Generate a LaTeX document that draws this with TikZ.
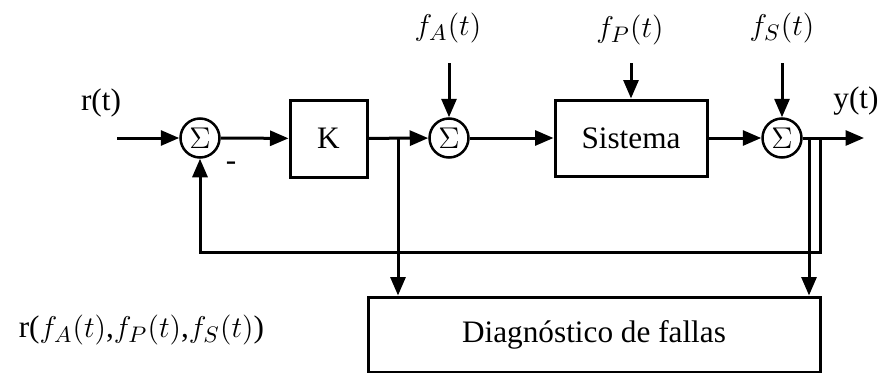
\documentclass[tikz,border=0pt]{standalone}
\usepackage{fontspec}
\setmainfont{Liberation Serif}
\usetikzlibrary{arrows.meta}

\begin{document}
\begin{tikzpicture}[x=0.4pt,y=-0.4pt,font=\fontsize{12.5}{15}\selectfont]
    \tikzset{
        block/.style={draw, line width=1.2pt, inner sep=0pt, minimum height=30.4pt},
        sumnode/.style={draw, circle, line width=1pt, inner sep=0pt, minimum size=15.6pt},
        arc/.style={-{Triangle[length=7.4pt,width=6pt]}, line width=1.2pt}
    }
    \useasboundingbox (0,0) rectangle (880,373);
    % lazo de control
    \draw node[sumnode] (s1) at (200,138) {$\Sigma$};
    \draw node[block, minimum width=30.8pt, minimum height=30.8pt] (k) at (328.5,138.5) {K};
    \draw node[sumnode] (s2) at (449,138) {$\Sigma$};
    \draw node[block, minimum width=60.8pt] (sis) at (631,138) {Sistema};
    \draw node[sumnode] (s3) at (782,138) {$\Sigma$};
    \draw node[block, minimum width=180.8pt, minimum height=30pt] (diag) at (594,334.5) {Diagnóstico de fallas};
    % textos
    \node (rt) at (101,103) {r(t)};
    \node (yt) at (856,101) {y(t)};
    \node (fa) at (448,28) {$f_A(t)$};
    \node (fp) at (630,30) {$f_P(t)$};
    \node (fs) at (782,28) {$f_S(t)$};
    \node (menos) at (231,166) {-};
    \node[anchor=west] (res) at (10,330) {r($f_A(t)$,$f_P(t)$,$f_S(t)$)};
    % puntos libres
    \coordinate (in) at (117,138);
    \coordinate (out) at (864,138);
    \coordinate (ea) at (449,63);
    \coordinate (ep) at (631,63);
    \coordinate (es) at (782,63);
    \coordinate (b1) at (398,138);
    \coordinate (b2) at (809,138);
    \coordinate (b3) at (820,138);
    \coordinate (fb) at (820,252);
    \foreach \x/\y in {%
        in/s1,s1/k,k/s2,s2/sis,sis/s3,s3/out,ea/s2,ep/sis,es/s3%
    }
    {
        \draw[arc] (\x) -- (\y);
    }

    \draw[arc] (b1) -- (b1 |- diag.north);
    \draw[arc] (b2) -- (b2 |- diag.north);
    \draw[arc] (b3) -- (fb) -| (s1.south);
\end{tikzpicture}
\end{document}
